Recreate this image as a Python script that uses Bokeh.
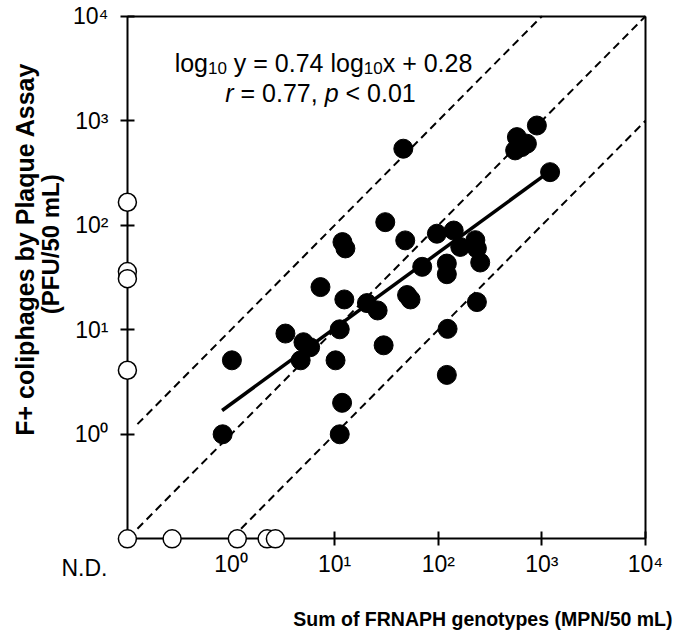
import math
from bokeh.plotting import figure
from bokeh.models import Range1d, FixedTicker, LogAxis, Label
from bokeh.embed import file_html
from bokeh.resources import INLINE

# ---------------- data ----------------
ND = 0.1  # plotting position for "not detected"

# samples with both measurements (MPN/50 mL, PFU/50 mL)
frnaph = [1.02, 0.83, 11.9, 12.7, 7.3, 12.4, 20.5, 26, 3.35, 11.2, 5.0, 5.8, 4.7,
          10.2, 29.7, 11.8, 11.2, 46, 895, 574, 717, 552, 640, 1200, 30.8, 48,
          97, 141, 228, 163, 236, 254, 70, 121, 121, 50, 54, 236, 123, 121]
fplus = [5.1, 1.0, 69, 60, 25.6, 19.5, 18, 15.3, 9.2, 10.1, 7.6, 6.8, 5.1,
         5.1, 7.1, 2.0, 1.0, 540, 900, 697, 603, 520, 560, 322, 107, 71.6,
         83, 89, 72, 62, 60, 44, 40, 43, 34, 21.5, 19.5, 18.4, 10.2, 3.7]

# FRNAPH not detected, F+ detected
fplus_only = [166, 36, 30.8, 4.1]
# F+ not detected, FRNAPH detected
frnaph_only = [0.27, 1.15, 2.23, 2.68]
# both not detected
both_nd_x = [ND]
both_nd_y = [ND]

# regression line end points
fit_x = [0.82, 1200]
fit_y = [1.69, 330]

# reference lines (y = 10x, y = x, y = x/10)
ref_upper_x = [0.125, 1000]
ref_upper_y = [1.25, 10000]
ref_mid_x = [0.125, 10000]
ref_mid_y = [0.125, 10000]
ref_lower_x = [1.25, 10000]
ref_lower_y = [0.125, 1000]

tick_values = [1, 10, 100, 1000, 10000]
tick_labels = ["10\u2070", "10\u00b9", "10\u00b2", "10\u00b3", "10\u2074"]
AX_MAX = 10000

FONT = "Liberation Sans"

# ---------------- figure ----------------
# the frame fills the whole canvas; axes are drawn at fixed data locations
p = figure(width=680, height=639, x_axis_type="log", y_axis_type="log",
           x_range=Range1d(10 ** -2.2247, 10 ** 4.3378),
           y_range=Range1d(10 ** -1.9634, 10 ** 4.1502),
           output_backend="svg", toolbar_location=None, min_border=0)
p.grid.visible = False
p.outline_line_color = None

for ax in (p.below[0], p.left[0]):
    ax.fixed_location = ND
    ax.bounds = (ND, AX_MAX)
    ax.ticker = FixedTicker(ticks=tick_values)
    ax.major_label_overrides = dict(zip(tick_values, tick_labels))
    ax.axis_line_width = 2
    ax.axis_line_color = "black"
    ax.major_tick_in = 7
    ax.major_tick_out = 7
    ax.major_tick_line_width = 2
    ax.major_tick_line_color = "black"
    ax.minor_tick_line_color = None
    ax.major_label_text_font = FONT
    ax.major_label_text_font_size = "23px"
    ax.major_label_text_color = "black"
p.below[0].major_label_standoff = 5
p.left[0].major_label_standoff = 12

for side in ("right", "above"):
    bx = LogAxis(ticker=FixedTicker(ticks=[]), bounds=(ND, AX_MAX), fixed_location=AX_MAX,
                 axis_line_width=2, axis_line_color="black",
                 major_tick_line_color=None, minor_tick_line_color=None,
                 major_label_text_font_size="0px")
    p.add_layout(bx, side)

# reference lines
for xs, ys in ((ref_upper_x, ref_upper_y), (ref_mid_x, ref_mid_y), (ref_lower_x, ref_lower_y)):
    p.line(xs, ys, line_color="black", line_width=2, line_dash="8 5")

# regression line
p.line(fit_x, fit_y, line_color="black", line_width=3.5)

# filled points
p.scatter(frnaph, fplus, size=19, fill_color="black", line_color="black")

# open (not detected) points, drawn above the axes
p.scatter([ND] * len(fplus_only), fplus_only, size=18, fill_color="white",
          line_color="black", line_width=1.5, level="overlay")
p.scatter(frnaph_only, [ND] * len(frnaph_only), size=18, fill_color="white",
          line_color="black", line_width=1.5, level="overlay")
p.scatter(both_nd_x, both_nd_y, size=18, fill_color="white",
          line_color="black", line_width=1.5, level="overlay")

# ---------------- texts ----------------
W = {'l': 222, 'o': 556, 'g': 556, ' ': 278, 'y': 500, '=': 584, '.': 278,
     'x': 500, '+': 584, 'r': 333, ',': 278, 'p': 556, '<': 584}


def tw(s, size):
    return sum(W.get(c, 556) for c in s) * size / 1000.0


AXIS_PX = 126.9  # pixel x of the N.D. position (anchor)


def add_pieces(pieces, center_px, y_off):
    total = sum(tw(t, s) + tw(' ', 25) * gap for t, s, dy, st, gap in pieces)
    x = center_px - total / 2.0
    for t, s, dy, st, gap in pieces:
        p.add_layout(Label(x=ND, y=AX_MAX, x_offset=x - AXIS_PX, y_offset=y_off + dy,
                           text=t, text_font=FONT, text_font_size=f"{s}px",
                           text_font_style=st, text_align="left",
                           text_baseline="alphabetic", text_color="black"))
        x += tw(t, s) + tw(' ', 25) * gap


add_pieces([("log", 25, 0, "normal", 0),
            ("10", 17, -5, "normal", 1),
            ("y = 0.74 log", 25, 0, "normal", 0),
            ("10", 17, -5, "normal", 0),
            ("x + 0.28", 25, 0, "normal", 0)], 323, -47)
add_pieces([("r", 25, 0, "italic", 1),
            ("= 0.77,", 25, 0, "normal", 1),
            ("p", 25, 0, "italic", 1),
            ("< 0.01", 25, 0, "normal", 0)], 320, -77)

# y axis title (two lines)
for txt, xo, yo, fs in (("F+ coliphages by Plaque Assay", -102, -24, "25px"),
                        ("(PFU/50 mL)", -77, -19, "24px")):
    p.add_layout(Label(x=ND, y=100, x_offset=xo, y_offset=yo, angle=math.pi / 2,
                       text=txt, text_font=FONT, text_font_size=fs,
                       text_font_style="bold", text_align="center",
                       text_baseline="middle", text_color="black"))

# x axis title
p.add_layout(Label(x=AX_MAX, y=ND, x_offset=27, y_offset=-80,
                   text="Sum of FRNAPH genotypes (MPN/50 mL)", text_font=FONT,
                   text_font_size="19.5px", text_font_style="bold",
                   text_align="right", text_baseline="alphabetic", text_color="black"))

# N.D. label
p.add_layout(Label(x=ND, y=ND, x_offset=-43, y_offset=-29, text="N.D.",
                   text_font=FONT, text_font_size="23px", text_align="center",
                   text_baseline="alphabetic", text_color="black"))

open("out.html", "w").write(file_html(p, INLINE))
